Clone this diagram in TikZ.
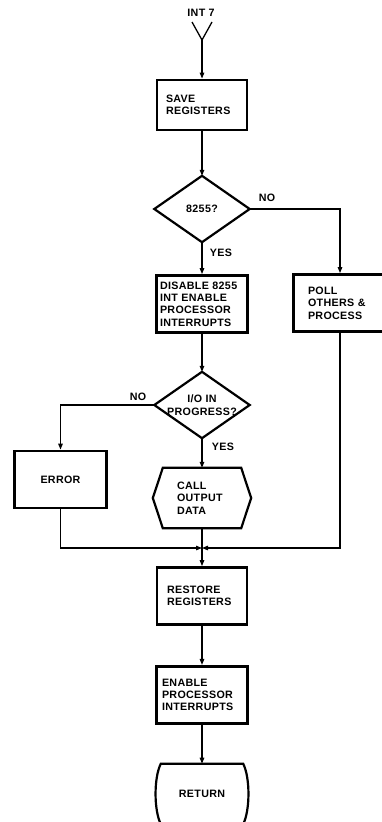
\documentclass[tikz,border=0pt]{standalone}
\usepackage{fontspec}
\setmainfont{Liberation Sans}[LetterSpace=3]
\usetikzlibrary{arrows.meta,
                positioning}

\begin{document}
\begin{tikzpicture}[x=1pt, y=-1pt,
node distance = 39pt,
   BOX/.style = {rectangle, draw, line width=2.8pt, minimum height=57pt,
                 align=left, inner ysep=0pt},
   DEC/.style = {minimum width=95pt, minimum height=66pt,
                 inner sep=0pt, align=center},
  EDGE/.style = {line width=2.2pt, line join=miter},
    LN/.style = {line width=1.2pt, -{Triangle[length=6pt,width=4.5pt]}},
   LBL/.style = {inner sep=0pt},
every node/.style = {font=\bfseries\fontsize{10.7}{12.4}\selectfont}
                        ]
\useasboundingbox (0,0) rectangle (382,822);
% entry
\node (int7) at (201,13) {INT 7};
\coordinate (vtip) at (202,40);
\draw[line width=1.3pt] (192,22) -- (vtip) -- (212,22);
\node[BOX, text width=72pt, inner xsep=9pt, minimum height=50pt]
      (save) at (202,105) {SAVE\\REGISTERS};
% first test
\node[DEC] (d1) at (202,209) {8255?};
\draw[EDGE] (d1.west) -- (d1.north) -- (d1.east) -- (d1.south) -- cycle;
\node[BOX, text width=84pt, inner xsep=3.5pt]
      (disable) at (202,304) {DISABLE 8255\\INT ENABLE\\PROCESSOR\\INTERRUPTS};
\node[BOX, text width=64pt, inner xsep=14.5pt]
      (poll) at (340,303) {POLL\\OTHERS \&\\PROCESS};
% second test
\node[DEC] (d2) at (202,405) {I/O IN\\PROGRESS?};
\draw[EDGE] (d2.west) -- (d2.north) -- (d2.east) -- (d2.south) -- cycle;
\node[BOX, align=center, minimum width=92pt] (error) at (60.5,479.5) {ERROR};
\node[text width=50pt, inner xsep=14pt, minimum height=60pt, inner ysep=0pt,
      align=left] (call) at (202,498) {CALL\\OUTPUT\\DATA};
\draw[EDGE] (call.north west) -- (call.north east) -- ([xshift=10pt]call.east)
            -- (call.south east) -- (call.south west)
            -- ([xshift=-10pt]call.west) -- cycle;
% exit
\coordinate (join) at (202,548);
\node[BOX, text width=70pt, inner xsep=10pt] (restore) at (202,596) {RESTORE\\REGISTERS};
\node[BOX, text width=80pt, inner xsep=5.5pt, below=of restore]
      (enable) {ENABLE\\PROCESSOR\\INTERRUPTS};
\node[minimum width=82pt, minimum height=60pt, below=of enable] (ret) {RETURN};
\draw[EDGE] (ret.north west) -- (ret.north east)
            .. controls ([xshift=7pt,yshift=-14pt]ret.north east)
                    and ([xshift=7pt,yshift=14pt]ret.south east) .. (ret.south east)
            -- (ret.south west)
            .. controls ([xshift=-7pt,yshift=14pt]ret.south west)
                    and ([xshift=-7pt,yshift=-14pt]ret.north west) .. (ret.north west)
            -- cycle;
% connectors
\draw[LN] (vtip) -- (save.north);
\draw[LN] (save.south) -- (d1.north);
\draw[LN] (d1.south) -- (disable.north);
\draw[LN] (d1.east) -| (poll.north);
\draw[LN] (disable.south) -- (d2.north);
\draw[LN] (d2.west) -| (error.north);
\draw[LN] (d2.south) -- (call.north);
\draw[LN] (error.south) |- (join);
\draw[LN] (poll.south) |- (join);
\draw[LN] (call.south) -- (restore.north);
\draw[LN] (restore.south) -- (enable.north);
\draw[LN] (enable.south) -- (ret.north);
% branch labels
\node[LBL] (no1)  at (267,198) {NO};
\node[LBL] (yes1) at (221,253) {YES};
\node[LBL] (no2)  at (138,397) {NO};
\node[LBL] (yes2) at (223,447) {YES};
\end{tikzpicture}
\end{document}
